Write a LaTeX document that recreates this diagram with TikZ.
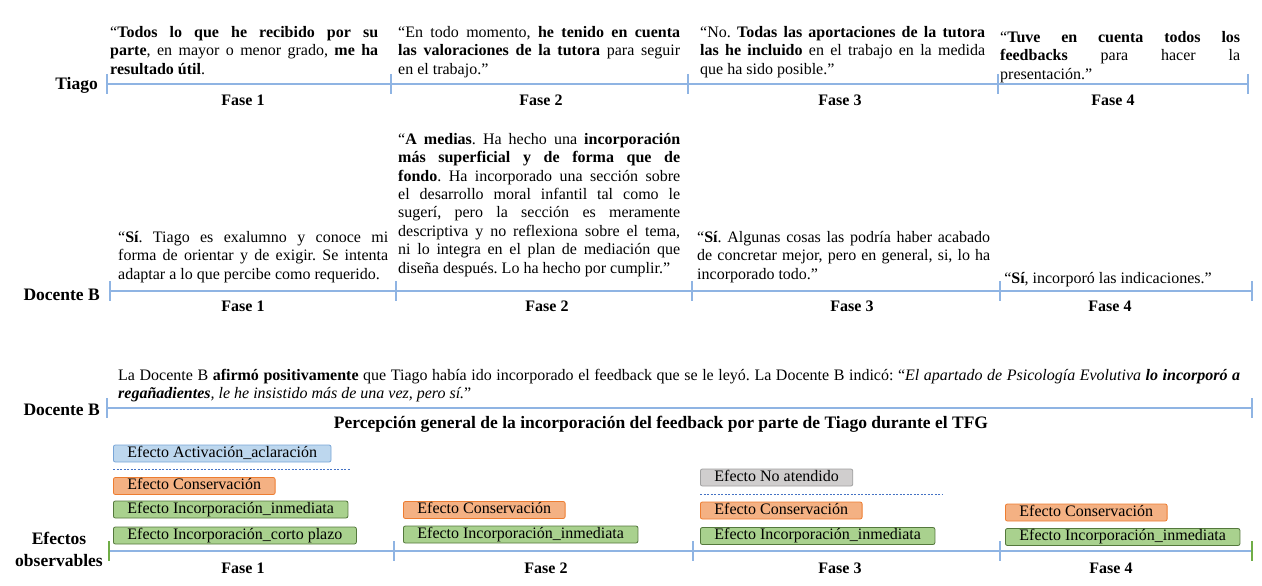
\documentclass[tikz,border=0pt]{standalone}
\usepackage{fontspec}
\setmainfont{Liberation Serif}
\usetikzlibrary{positioning}
\newcommand\fsz{\fontsize{16}{18.4}\selectfont\frenchspacing}
\newcommand\fbig{\fontsize{17.5}{22}\selectfont\bfseries}
\definecolor{lin}{RGB}{143,180,227}
\definecolor{verde}{RGB}{112,173,71}

\begin{document}
\begin{tikzpicture}[x=1pt,y=-1pt,
  lab/.style={font=\fbig, anchor=east, inner sep=0},
  fase/.style={font=\fsz\bfseries, inner sep=0},
  cita/.style={anchor=north west, inner sep=0, align=justify, font=\fsz},
  tl/.style={draw=lin, line width=1.3pt},
  ef/.style={draw, rounded corners=2pt, line width=0.8pt, inner xsep=14pt, inner ysep=0pt, minimum height=17pt, text height=11pt, text depth=3.5pt, anchor=west, font=\fsz},
  act/.style={ef, fill={rgb,255:red,189;green,215;blue,238}, draw={rgb,255:red,120;green,165;blue,215}},
  con/.style={ef, fill={rgb,255:red,244;green,177;blue,131}, draw={rgb,255:red,237;green,125;blue,49}},
  inc/.style={ef, fill={rgb,255:red,169;green,209;blue,142}, draw={rgb,255:red,84;green,120;blue,60}},
  noat/.style={ef, fill={rgb,255:red,208;green,206;blue,206}, draw={rgb,255:red,160;green,160;blue,160}},
  punt/.style={draw={rgb,255:red,68;green,114;blue,196}, dash pattern=on 2pt off 1.5pt, line width=0.8pt}]
\useasboundingbox (0,0) rectangle (1262,586);

% Tiago
\foreach \x [count=\i] in {107,391,688,998,1248} \coordinate (a\i) at (\x,84);
\draw[tl] (a1) -- (a5);
\foreach \i in {1,...,5} \draw[tl] ([yshift=10pt]a\i) -- ([yshift=-10pt]a\i);
\foreach \x [count=\i] in {243,541,840,1113} \node[fase] (fa\i) at (\x,100) {Fase \i};
\node[lab] (la) at (98,85) {Tiago};
\node[cita, text width=268pt] (ta1) at (110,26) {“\textbf{Todos lo que he recibido por su\linebreak parte}, en mayor o menor grado, \textbf{me ha\linebreak resultado útil}.};
\node[cita, text width=282pt] (ta2) at (398,26) {“En todo momento, \textbf{he tenido en cuenta\linebreak las valoraciones de la tutora} para seguir\linebreak en el trabajo.”};
\node[cita, text width=285pt] (ta3) at (700,26) {“No. \textbf{Todas las aportaciones de la tutora\linebreak las he incluido} en el trabajo en la medida\linebreak que ha sido posible.”};
\node[cita, text width=240pt] (ta4) at (1000,31) {“\textbf{Tuve en cuenta todos los\linebreak feedbacks} para hacer la\linebreak presentación.”};

% Docente B
\foreach \x [count=\i] in {110,396,692,1000,1252} \coordinate (b\i) at (\x,291);
\draw[tl] (b1) -- (b5);
\foreach \i in {1,...,5} \draw[tl] ([yshift=10pt]b\i) -- ([yshift=-10pt]b\i);
\foreach \x [count=\i] in {243,547,852,1110} \node[fase] (fb\i) at (\x,306) {Fase \i};
\node[lab] (lb) at (100,295) {Docente B};
\node[cita, text width=270pt] (tb1) at (118,231) {“\textbf{Sí}. Tiago es exalumno y conoce mi\linebreak forma de orientar y de exigir. Se intenta\linebreak adaptar a lo que percibe como requerido.};
\node[cita, text width=282pt] (tb2) at (398,133) {“\textbf{A medias}. Ha hecho una \textbf{incorporación\linebreak más superficial y de forma que de\linebreak fondo}. Ha incorporado una sección sobre\linebreak el desarrollo moral infantil tal como le\linebreak sugerí, pero la sección es meramente\linebreak descriptiva y no reflexiona sobre el tema,\linebreak ni lo integra en el plan de mediación que\linebreak diseña después. Lo ha hecho por cumplir.”};
\node[cita, text width=293pt] (tb3) at (697,231) {“\textbf{Sí}. Algunas cosas las podría haber acabado\linebreak de concretar mejor, pero en general, si, lo ha\linebreak incorporado todo.”};
\node[font=\fsz, inner sep=0] (tb4) at (1108,280) {“\textbf{Sí}, incorporó las indicaciones.”};

% percepcion general
\coordinate (c1) at (107,408); \coordinate (c2) at (1252,408);
\draw[tl] (c1) -- (c2);
\foreach \i in {1,2} \draw[tl] ([yshift=10pt]c\i) -- ([yshift=-10pt]c\i);
\node[lab] (lc) at (100,410) {Docente B};
\node[cita, text width=1122pt] (tc) at (118,369) {La Docente B \textbf{afirmó positivamente} que Tiago había ido incorporado el feedback que se le leyó. La Docente B indicó: “\textit{El apartado de Psicología Evolutiva \textbf{lo incorporó a\linebreak regañadientes}, le he insistido más de una vez, pero sí.}”};
\node[font=\fbig, inner sep=0] (tit) at (661,424) {Percepción general de la incorporación del feedback por parte de Tiago durante el TFG};

% efectos observables
\foreach \x [count=\i] in {109,394,693,1000,1252} \coordinate (d\i) at (\x,551);
\draw[tl] (d1) -- (d5);
\foreach \i in {2,3,4} \draw[tl] ([yshift=10pt]d\i) -- ([yshift=-10pt]d\i);
\foreach \i in {1,5} \draw[draw=verde, line width=1.3pt] ([yshift=10pt]d\i) -- ([yshift=-10pt]d\i);
\foreach \x [count=\i] in {243,546,840,1111} \node[fase] (fd\i) at (\x,568) {Fase \i};
\node[font=\fbig, align=center, inner sep=0] (ld) at (59,549) {Efectos\\observables};
\node[act] (e1) at (113,453.5) {Efecto Activación\_aclaración};
\draw[punt] (113,469) -- (351,469);
\node[con] (e2) at (113,486) {Efecto Conservación};
\node[inc] (e3) at (113,509.5) {Efecto Incorporación\_inmediata};
\node[inc] (e4) at (113,535.5) {Efecto Incorporación\_corto plazo};
\node[noat] (na) at (700,477.5) {Efecto No atendido};
\draw[punt] (700,494) -- (943,494);
\foreach \x/\ya/\yb [count=\i from 2] in {403/510/534.5,700/510.5/536,1005/512.5/537} {
  \node[con] (c\i) at (\x,\ya) {Efecto Conservación};
  \node[inc] (n\i) at (\x,\yb) {Efecto Incorporación\_inmediata};
}
\end{tikzpicture}
\end{document}
